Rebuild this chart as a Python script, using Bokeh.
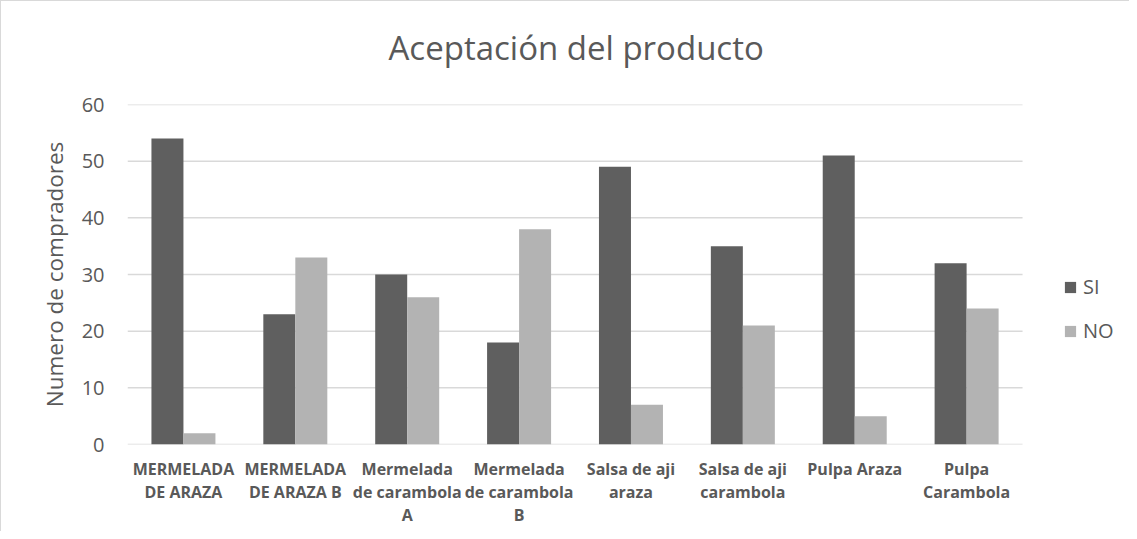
from bokeh.plotting import figure
from bokeh.models import (ColumnDataSource, Range1d, Legend, LegendItem,
                          FixedTicker, LinearAxis)
from bokeh.transform import dodge
from bokeh.embed import file_html
from bokeh.resources import INLINE

categories = ["MERMELADA DE ARAZA", "MERMELADA DE ARAZA B", "Mermelada de carambola A",
              "Mermelada de carambola B", "Salsa de aji araza", "Salsa de aji carambola",
              "Pulpa Araza", "Pulpa Carambola"]
# wrapped tick labels, line by line, as shown under each group
label_lines = [["MERMELADA", "DE ARAZA"], ["MERMELADA", "DE ARAZA B"],
               ["Mermelada", "de carambola", "A"], ["Mermelada", "de carambola", "B"],
               ["Salsa de aji", "araza"], ["Salsa de aji", "carambola"],
               ["Pulpa Araza"], ["Pulpa", "Carambola"]]
si = [54, 23, 30, 18, 49, 35, 51, 32]
no = [2, 33, 26, 38, 7, 21, 5, 24]
y_ticks = [0, 10, 20, 30, 40, 50, 60]

FONT = "Open Sans"
TXT = "#595959"

idx = list(range(len(categories)))
src = ColumnDataSource(dict(idx=idx, cat=categories, si=si, no=no))
grid_src = ColumnDataSource(dict(y=y_ticks, x0=[idx[0] - 0.5] * len(y_ticks),
                                 x1=[idx[-1] + 0.5] * len(y_ticks)))

# frame extends to the right to host the legend (group width kept at ~112 px)
p = figure(x_range=Range1d(-0.5, 8.447), y_range=Range1d(y_ticks[0], y_ticks[-1]),
           width=1129, height=531, output_backend="svg", toolbar_location=None,
           x_axis_location=None,
           min_border_left=126, min_border_right=2, min_border_top=103, min_border_bottom=88)
p.styles = {"border-left": "1px solid #d9d9d9", "border-top": "1px solid #d9d9d9"}

p.xgrid.visible = False
p.ygrid.visible = False
p.segment(x0="x0", x1="x1", y0="y", y1="y", source=grid_src, line_color="#d9d9d9", line_width=1.5)

r_si = p.vbar(x=dodge("idx", -0.143), top="si", width=0.286, source=src,
              fill_color="#5f5f5f", line_color=None)
r_no = p.vbar(x=dodge("idx", 0.143), top="no", width=0.286, source=src,
              fill_color="#b3b3b3", line_color=None)

p.title.text = "Aceptación del producto"
p.title.align = "left"
p.title.offset = 261
p.title.text_font = FONT
p.title.text_font_size = "33px"
p.title.text_font_style = "normal"
p.title.text_color = TXT
try:
    p.title.padding = dict(left=0, right=0, top=0, bottom=35)
    p.title.standoff = 0
except Exception:
    p.title.standoff = 55

p.outline_line_color = None
p.yaxis.ticker = FixedTicker(ticks=y_ticks)
p.yaxis.axis_line_color = None
p.yaxis.major_tick_line_color = None
p.yaxis.minor_tick_line_color = None
p.yaxis.major_tick_out = 0
p.yaxis.major_label_text_font = FONT
p.yaxis.major_label_text_font_size = "20px"
p.yaxis.major_label_text_color = TXT
p.yaxis.major_label_standoff = 23
p.yaxis.axis_label = "Numero de compradores"
p.yaxis.axis_label_text_font = FONT
p.yaxis.axis_label_text_font_size = "22.5px"
p.yaxis.axis_label_text_font_style = "normal"
p.yaxis.axis_label_text_color = TXT
p.yaxis.axis_label_standoff = 9

for k, standoff in ((0, 13), (1, -2), (2, -2)):
    ax = LinearAxis(ticker=FixedTicker(ticks=idx))
    ax.axis_line_color = None
    ax.major_tick_line_color = None
    ax.minor_tick_line_color = None
    ax.major_tick_out = 0
    ax.major_tick_in = 0
    ax.major_label_overrides = {i: (ls[k] if k < len(ls) else " ")
                                for i, ls in zip(idx, label_lines)}
    ax.major_label_text_font = FONT
    ax.major_label_text_font_size = "16px"
    ax.major_label_text_font_style = "bold"
    ax.major_label_text_color = TXT
    ax.major_label_standoff = standoff
    ax.major_label_orientation = "horizontal"
    p.add_layout(ax, "below")

legend = Legend(items=[LegendItem(label="SI", renderers=[r_si]), LegendItem(label="NO", renderers=[r_no])],
                location=(936, 100), padding=0, margin=0, spacing=17,
                glyph_width=14, glyph_height=14, label_height=20, label_standoff=6,
                label_text_font=FONT, label_text_font_size="20px", label_text_color=TXT,
                border_line_color=None, background_fill_alpha=0)
p.add_layout(legend)

open("out.html", "w").write(file_html(p, INLINE))
